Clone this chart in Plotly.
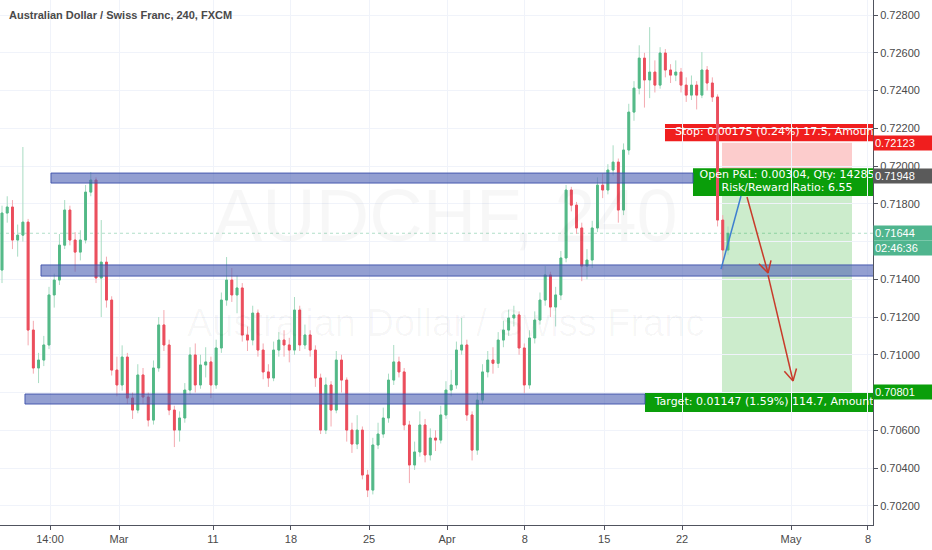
import math
import plotly.graph_objects as go

# AUDCHF 240 (FXCM) - price path, one bar per ~8h
first_open = 0.71449
closes = [
    0.71751, 0.71783, 0.71608, 0.71634, 0.71703, 0.71131, 0.70930, 0.70972, 0.71052, 0.71317,
    0.71396, 0.71581, 0.71767, 0.71608, 0.71544, 0.71608, 0.71862, 0.71926, 0.71407, 0.71491,
    0.71290, 0.70919, 0.70840, 0.70988, 0.70771, 0.70707, 0.70893, 0.70776, 0.70654, 0.70930,
    0.71158, 0.71052, 0.70707, 0.70601, 0.70665, 0.70813, 0.70999, 0.70840, 0.70946, 0.70962,
    0.70840, 0.71036, 0.71290, 0.71396, 0.71317, 0.71354, 0.71105, 0.71078, 0.71221, 0.71025,
    0.70909, 0.70877, 0.71025, 0.71078, 0.71052, 0.71025, 0.71237, 0.71052, 0.71105, 0.71025,
    0.70877, 0.70601, 0.70840, 0.70707, 0.70972, 0.70866, 0.70601, 0.70527, 0.70601, 0.70363,
    0.70283, 0.70522, 0.70580, 0.70665, 0.70866, 0.70962, 0.70909, 0.70628, 0.70416, 0.70485,
    0.70628, 0.70469, 0.70559, 0.70548, 0.70681, 0.70813, 0.70840, 0.71025, 0.71052, 0.70681,
    0.70495, 0.70760, 0.70909, 0.70972, 0.70955, 0.71078, 0.71131, 0.71195, 0.71211, 0.71036,
    0.70840, 0.71089, 0.71184, 0.71290, 0.71423, 0.71253, 0.71317, 0.71513, 0.71873, 0.71793,
    0.71672, 0.71470, 0.71502, 0.71672, 0.71899, 0.71873, 0.71979, 0.72021, 0.71767, 0.72085,
    0.72286, 0.72413, 0.72572, 0.72456, 0.72498, 0.72429, 0.72599, 0.72509, 0.72482, 0.72498,
    0.72429, 0.72376, 0.72429, 0.72376, 0.72509, 0.72440, 0.72366, 0.71714, 0.71555, 0.71644,
]
highs = [
    0.71790, 0.71840, 0.71820, 0.71690, 0.72101, 0.71720, 0.71180, 0.71010, 0.71100, 0.71360,
    0.71430, 0.71640, 0.71820, 0.71790, 0.71650, 0.71660, 0.71900, 0.71968, 0.71940, 0.71714,
    0.71520, 0.71310, 0.70990, 0.71050, 0.71010, 0.70800, 0.70950, 0.70930, 0.70800, 0.70970,
    0.71200, 0.71237, 0.71080, 0.70730, 0.70700, 0.70850, 0.71040, 0.71060, 0.71000, 0.71040,
    0.70990, 0.71080, 0.71330, 0.71518, 0.71460, 0.71420, 0.71380, 0.71150, 0.71260, 0.71240,
    0.71060, 0.70950, 0.71070, 0.71120, 0.71130, 0.71090, 0.71306, 0.71260, 0.71160, 0.71130,
    0.71050, 0.70900, 0.70880, 0.70860, 0.71020, 0.71000, 0.70880, 0.70640, 0.70680, 0.70620,
    0.70390, 0.70560, 0.70640, 0.70720, 0.70900, 0.71052, 0.70990, 0.70930, 0.70650, 0.70540,
    0.70700, 0.70660, 0.70610, 0.70600, 0.70730, 0.70860, 0.70920, 0.71070, 0.71195, 0.71080,
    0.70700, 0.70800, 0.70950, 0.71020, 0.71040, 0.71120, 0.71180, 0.71240, 0.71260, 0.71230,
    0.71060, 0.71130, 0.71230, 0.71330, 0.71470, 0.71440, 0.71360, 0.71550, 0.71900, 0.71890,
    0.71810, 0.71700, 0.71560, 0.71710, 0.71940, 0.71960, 0.72010, 0.72110, 0.72040, 0.72120,
    0.72330, 0.72450, 0.72640, 0.72600, 0.72736, 0.72560, 0.72630, 0.72620, 0.72540, 0.72560,
    0.72520, 0.72470, 0.72480, 0.72450, 0.72604, 0.72530, 0.72470, 0.72380, 0.71740, 0.71680,
]
lows = [
    0.71380, 0.71700, 0.71560, 0.71520, 0.71600, 0.71050, 0.70900, 0.70850, 0.70940, 0.71030,
    0.71250, 0.71370, 0.71560, 0.71580, 0.71440, 0.71500, 0.71590, 0.71840, 0.71380, 0.71200,
    0.71250, 0.70890, 0.70780, 0.70810, 0.70740, 0.70660, 0.70690, 0.70740, 0.70620, 0.70630,
    0.70910, 0.71020, 0.70680, 0.70511, 0.70540, 0.70640, 0.70790, 0.70800, 0.70820, 0.70880,
    0.70770, 0.70820, 0.71010, 0.71260, 0.71280, 0.71220, 0.71070, 0.71020, 0.71050, 0.70990,
    0.70870, 0.70830, 0.70860, 0.70990, 0.70990, 0.70960, 0.71000, 0.71020, 0.71030, 0.70990,
    0.70830, 0.70580, 0.70580, 0.70620, 0.70690, 0.70800, 0.70540, 0.70480, 0.70500, 0.70340,
    0.70246, 0.70260, 0.70500, 0.70560, 0.70640, 0.70840, 0.70880, 0.70600, 0.70320, 0.70390,
    0.70460, 0.70430, 0.70440, 0.70490, 0.70530, 0.70660, 0.70780, 0.70820, 0.71000, 0.70650,
    0.70440, 0.70470, 0.70740, 0.70880, 0.70900, 0.70930, 0.71040, 0.71100, 0.71150, 0.71000,
    0.70797, 0.70820, 0.71060, 0.71160, 0.71260, 0.71200, 0.71150, 0.71290, 0.71490, 0.71760,
    0.71640, 0.71390, 0.71400, 0.71460, 0.71650, 0.71830, 0.71850, 0.71950, 0.71700, 0.71740,
    0.72060, 0.72240, 0.72380, 0.72310, 0.72360, 0.72390, 0.72410, 0.72470, 0.72440, 0.72450,
    0.72390, 0.72340, 0.72350, 0.72300, 0.72360, 0.72400, 0.72340, 0.71680, 0.71449, 0.71530,
]

# x axis labels (positions in bar units)
tick_pos = [9.19, 22.4, 40.4, 55.33, 70.27, 85.2, 100.1, 115.3, 130.2, 151.06, 165.8]
tick_text = ["14:00", "Mar", "11", "18", "25", "Apr", "8", "15", "22", "May", "8"]

# price axis ticks; 0.71600 and 0.70800 sit under the price tags, so no label there
price_ticks = [0.702, 0.704, 0.706, 0.708, 0.710, 0.712, 0.714, 0.716, 0.718, 0.720, 0.722, 0.724, 0.726, 0.728]
price_tick_text = ["0.70200", "0.70400", "0.70600", "", "0.71000", "0.71200", "0.71400", "",
                   "0.71800", "0.72000", "0.72200", "0.72400", "0.72600", "0.72800"]

# support / resistance zones: (bottom, top, start bar, end bar)
zone_bottom = [0.71910, 0.71417, 0.70739]
zone_top = [0.71963, 0.71476, 0.70792]
zone_start = [9.38, 7.47, 4.40]
zone_end = [132.3, 167.0, 123.1]

# short position tool
entry_price = 0.71948
stop_price = 0.72123
target_price = 0.70801
last_price = 0.71644
pos_start, pos_end = 137.85, 162.74

stop_text = "Stop: 0.00175 (0.24%) 17.5, Amount: 25"
pnl_text = "Open P&L: 0.00304, Qty: 14285"
rr_text = "Risk/Reward Ratio: 6.55"
target_text = "Target: 0.01147 (1.59%) 114.7, Amount: 163.85"

UP = "#53B987"
DOWN = "#EB4D5C"
UP_WICK = "#A8DCC3"
DOWN_WICK = "#F4A9B0"
GRID = "#F0F3FA"
AXIS = "#50535E"
LABEL_FONT = "DejaVu Sans"

x = list(range(len(closes)))
opens = [first_open] + closes[:-1]
body_hi = [max(o, c) for o, c in zip(opens, closes)]
body_lo = [min(o, c) for o, c in zip(opens, closes)]

fig = go.Figure()

# wicks (light) then bodies (solid) on top
fig.add_trace(go.Candlestick(
    x=x, open=opens, high=highs, low=lows, close=closes,
    increasing=dict(line=dict(color=UP_WICK, width=1), fillcolor=UP_WICK),
    decreasing=dict(line=dict(color=DOWN_WICK, width=1), fillcolor=DOWN_WICK),
    whiskerwidth=0, hoverinfo="skip", showlegend=False,
))
fig.add_trace(go.Candlestick(
    x=x, open=opens, high=body_hi, low=body_lo, close=closes,
    increasing=dict(line=dict(color=UP, width=1), fillcolor=UP),
    decreasing=dict(line=dict(color=DOWN, width=1), fillcolor=DOWN),
    whiskerwidth=0, hoverinfo="skip", showlegend=False,
))

shapes = []

# position boxes
shapes.append(dict(type="rect", xref="x", yref="y", x0=pos_start, x1=pos_end,
                   y0=entry_price, y1=stop_price, layer="below",
                   fillcolor="rgba(240,0,0,0.2)", line=dict(width=0)))
shapes.append(dict(type="rect", xref="x", yref="y", x0=pos_start, x1=pos_end,
                   y0=target_price, y1=entry_price, layer="below",
                   fillcolor="rgba(0,160,0,0.2)", line=dict(width=0)))

# label boxes of the position tool (centred on the tool, clipped by the axis)
pos_mid = (pos_start + pos_end) / 2
label_boxes = [
    (23.36, 0.72132, 0.72223, "#F01E1E"),
    (18.0, 0.71841, 0.71989, "#0A9E0A"),
    (27.19, 0.70697, 0.70797, "#0A9E0A"),
]
for half, y0, y1, col in label_boxes:
    shapes.append(dict(type="rect", xref="x", yref="y", x0=pos_mid - half, x1=pos_mid + half,
                       y0=y0, y1=y1, layer="below", fillcolor=col, line=dict(width=0)))

# last price line
shapes.append(dict(type="line", xref="paper", yref="y", x0=0, x1=1, y0=last_price, y1=last_price,
                   layer="below", line=dict(color="rgba(83,185,135,0.45)", width=1, dash="dot")))

# zones
for b, t, s, e in zip(zone_bottom, zone_top, zone_start, zone_end):
    shapes.append(dict(type="rect", xref="x", yref="y", x0=s, x1=e, y0=b, y1=t, layer="above",
                       fillcolor="rgba(80,100,180,0.62)",
                       line=dict(color="rgba(60,80,170,0.9)", width=1)))

# drawn lines / arrows
PX_X = 5.223          # px per bar
PX_Y = 37.75 / 0.002  # px per price unit


def arrow(x0, y0, x1, y1, color, head=True):
    out = [dict(type="line", xref="x", yref="y", x0=x0, y0=y0, x1=x1, y1=y1, layer="above",
                line=dict(color=color, width=1.5))]
    if head:
        ang = math.atan2((y1 - y0) * PX_Y, (x1 - x0) * PX_X)
        for s in (1, -1):
            a = ang + math.pi + s * 0.5
            hx = x1 + 13 * math.cos(a) / PX_X
            hy = y1 + 13 * math.sin(a) / PX_Y
            out.append(dict(type="line", xref="x", yref="y", x0=x1, y0=y1, x1=hx, y1=hy,
                            layer="above", line=dict(color=color, width=1.5)))
    return out


shapes += arrow(137.66, 0.71454, 141.49, 0.71841, "#3E7FD0", head=False)
shapes += arrow(142.64, 0.71836, 146.66, 0.71433, "#C83A2A")
shapes += arrow(146.66, 0.71422, 151.45, 0.70861, "#C83A2A")

# label texts (scatter text so it is clipped at the plot edge)
fig.add_trace(go.Scatter(
    x=[pos_mid, pos_mid, pos_mid, pos_mid],
    y=[0.72177, 0.71951, 0.71882, 0.70747],
    text=[stop_text, pnl_text, rr_text, target_text],
    mode="text", textfont=dict(color="white", size=11, family=LABEL_FONT),
    hoverinfo="skip", showlegend=False,
))

annotations = []

# title
annotations.append(dict(text="Australian Dollar / Swiss Franc, 240, FXCM", xref="paper", yref="paper",
                        x=0.008, y=0.972, xanchor="left", yanchor="middle", showarrow=False,
                        font=dict(family="Liberation Sans", size=11, color="#4A4A4A", weight="bold")))

# watermark
annotations.append(dict(text="AUDCHF, 240", xref="paper", yref="paper", x=0.51, y=0.59,
                        showarrow=False, font=dict(family="Liberation Sans", size=74,
                                                   color="rgba(0,0,0,0.03)")))
annotations.append(dict(text="Australian Dollar / Swiss Franc", xref="paper", yref="paper", x=0.51, y=0.385,
                        showarrow=False, font=dict(family="Liberation Sans", size=38,
                                                   color="rgba(0,0,0,0.03)")))

# price axis tags
axis_tags = [
    ("0.72123", stop_price, "#F01E1E"),
    ("0.71948", entry_price, "#5A5A5A"),
    ("0.71644", last_price, "#4FB58E"),
    ("02:46:36", 0.71564, "#4FB58E"),
    ("0.70801", target_price, "#0A9E0A"),
]
for txt, yv, col in axis_tags:
    annotations.append(dict(text=txt, xref="paper", yref="y", x=1, y=yv, xanchor="left",
                            yanchor="middle", showarrow=False, bgcolor=col, width=57, height=12,
                            align="left", borderpad=1,
                            font=dict(family="Liberation Sans", size=11, color="white")))

fig.update_layout(
    width=932, height=550,
    margin=dict(l=0, r=59, t=0, b=25),
    paper_bgcolor="white", plot_bgcolor="white",
    boxgap=0.5,
    showlegend=False,
    shapes=shapes,
    annotations=annotations,
    xaxis=dict(
        range=[-0.383, 166.76], tickvals=tick_pos, ticktext=tick_text,
        showgrid=True, gridcolor=GRID, gridwidth=1, zeroline=False,
        showline=True, linecolor=AXIS, linewidth=1,
        ticks="outside", ticklen=4, tickcolor=AXIS,
        tickfont=dict(family="Liberation Sans", size=11, color="#4A4A4A"),
        rangeslider=dict(visible=False),
    ),
    yaxis=dict(
        side="right", range=[0.70098, 0.72880], tickvals=price_ticks, ticktext=price_tick_text,
        showgrid=True, gridcolor=GRID, gridwidth=1, zeroline=False,
        showline=True, linecolor=AXIS, linewidth=1,
        ticks="outside", ticklen=4, tickcolor=AXIS,
        tickfont=dict(family="Liberation Sans", size=11, color="#4A4A4A"),
    ),
)

# page has a default body margin, drop it so the 932x550 figure fills the window
fig.write_html("out.html", config={"displayModeBar": False},
               post_script="document.body.style.margin='0';document.body.style.overflow='hidden';")
